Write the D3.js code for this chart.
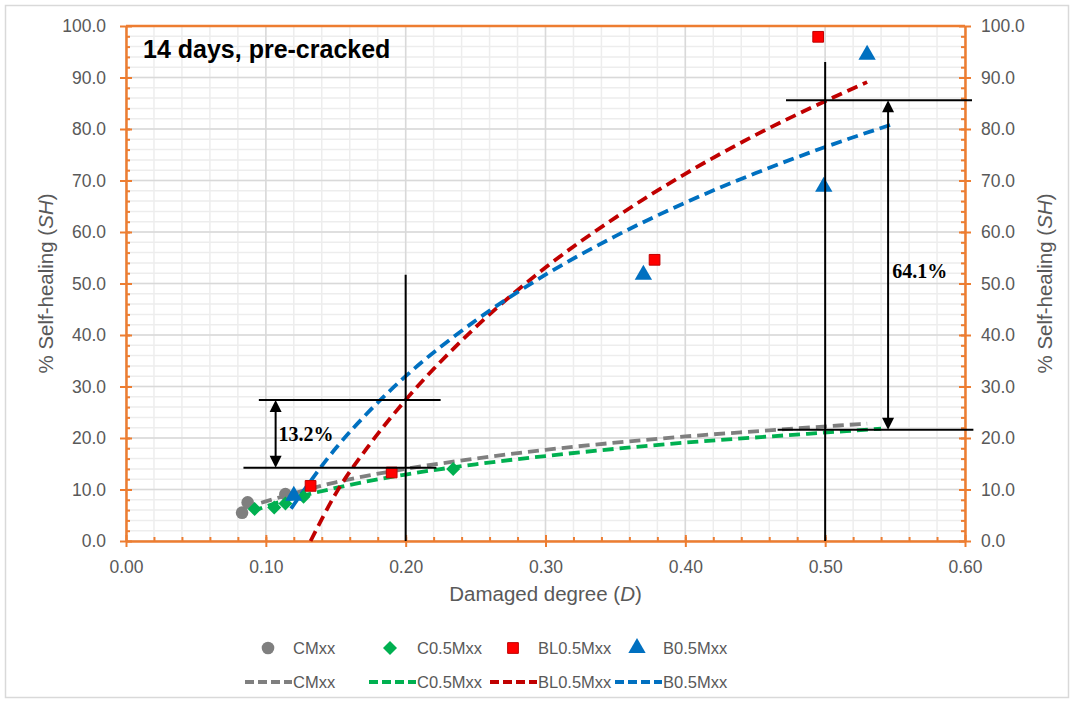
<!DOCTYPE html>
<html>
<head>
<meta charset="utf-8">
<script src="https://cdn.jsdelivr.net/npm/d3@7"></script>
<style>
 body { margin: 0; background: #fff; }
 text { font-family: "Liberation Sans", Arial, sans-serif; }
</style>
</head>
<body>
<svg id="chart" width="1076" height="704"></svg>
<script>
// measured points, [D, SH]
var cmPts = [[0.083, 5.5], [0.087, 7.5], [0.114, 9.1]];
var c05Pts = [[0.092, 6.2], [0.106, 6.5], [0.114, 7.3], [0.127, 8.6], [0.234, 14.0]];
var bl05Pts = [[0.132, 10.7], [0.190, 13.3], [0.378, 54.6], [0.495, 97.9]];
var b05Pts = [[0.120, 8.8], [0.370, 51.7], [0.499, 68.8], [0.530, 94.4]];

// trend lines
var cmTrend = [[0.085, 6.5], [0.10, 7.7], [0.15, 11.4], [0.20, 14.0], [0.25, 16.0], [0.30, 17.7], [0.35, 19.1], [0.40, 20.3], [0.45, 21.3], [0.53, 22.8]];
var c05Trend = [[0.09, 5.7], [0.10, 6.7], [0.15, 10.3], [0.20, 12.9], [0.25, 14.9], [0.30, 16.5], [0.35, 17.9], [0.40, 19.1], [0.45, 20.1], [0.54, 21.8]];
var bl05Trend = [[0.132, 0], [0.15, 9.2], [0.175, 19.0], [0.20, 27.4], [0.25, 41.5], [0.30, 53.1], [0.35, 62.8], [0.40, 71.3], [0.45, 78.8], [0.50, 85.4], [0.53, 89.1]];
var b05Trend = [[0.118, 6.3], [0.15, 18.0], [0.175, 25.5], [0.20, 32.0], [0.25, 42.8], [0.30, 51.7], [0.35, 59.2], [0.40, 65.7], [0.45, 71.4], [0.50, 76.5], [0.55, 81.1]];

var seriesNames = ["CMxx", "C0.5Mxx", "BL0.5Mxx", "B0.5Mxx"];
var xTicks = [0, 0.1, 0.2, 0.3, 0.4, 0.5, 0.6];
var yTicks = [0, 10, 20, 30, 40, 50, 60, 70, 80, 90, 100];

// annotation values
var gapLow = {D: 0.2, lo: 14.2, hi: 27.4, label: "13.2%"};
var gapHigh = {D: 0.5, lo: 21.6, hi: 85.6, label: "64.1%"};

var svg = d3.select("#chart");
var margin = {left: 126, right: 111, top: 26, bottom: 163};
var W = 1076, H = 704;
var x = d3.scaleLinear().domain([0, 0.6]).range([margin.left, W - margin.right]);
var y = d3.scaleLinear().domain([0, 100]).range([H - margin.bottom, margin.top]);

var orange = "#ed7d31", tickGrey = "#595959";
var colors = {grey: "#7f7f7f", green: "#00b050", red: "#ff0000", darkRed: "#c00000", blue: "#0070c0"};

// outer frame
svg.append("rect").attr("x", 5.5).attr("y", 5.5).attr("width", 1063).attr("height", 692)
 .attr("fill", "#fff").attr("stroke", "#d9d9d9").attr("stroke-width", 1.5);

// gridlines
var grid = svg.append("g");
d3.range(0, 0.6001, 0.02).forEach(function(v) {
 grid.append("line").attr("x1", x(v)).attr("x2", x(v)).attr("y1", y(0)).attr("y2", y(100))
  .attr("stroke", "#ededed").attr("stroke-width", 1.5);
});
d3.range(0, 100.01, 2).forEach(function(v) {
 grid.append("line").attr("x1", x(0)).attr("x2", x(0.6)).attr("y1", y(v)).attr("y2", y(v))
  .attr("stroke", "#ededed").attr("stroke-width", 1.5);
});
xTicks.forEach(function(v) {
 grid.append("line").attr("x1", x(v)).attr("x2", x(v)).attr("y1", y(0)).attr("y2", y(100))
  .attr("stroke", "#d9d9d9").attr("stroke-width", 1.5);
});
yTicks.forEach(function(v) {
 grid.append("line").attr("x1", x(0)).attr("x2", x(0.6)).attr("y1", y(v)).attr("y2", y(v))
  .attr("stroke", "#d9d9d9").attr("stroke-width", 1.5);
});

// axes
var fmtX = d3.format(".2f"), fmtY = d3.format(".1f");
function styleAxis(g) {
 g.select(".domain").attr("stroke", orange).attr("stroke-width", 2.5);
 g.selectAll(".tick line").attr("stroke", orange).attr("stroke-width", 2);
 g.selectAll(".tick text").attr("fill", tickGrey).style("font-size", "17.5px");
}
var xAxis = svg.append("g").attr("transform", "translate(0," + y(0) + ")")
 .call(d3.axisBottom(x).tickValues(xTicks).tickFormat(fmtX).tickSizeInner(6).tickSizeOuter(0).tickPadding(14));
styleAxis(xAxis);
xAxis.selectAll(".tick line").attr("y1", -6);
var xMinor = svg.append("g").attr("transform", "translate(0," + y(0) + ")")
 .call(d3.axisTop(x).tickValues(d3.range(0.02, 0.6, 0.02)).tickSize(4).tickFormat(""));
xMinor.select(".domain").remove();
xMinor.selectAll("line").attr("stroke", orange).attr("stroke-width", 2);

var yAxisL = svg.append("g").attr("transform", "translate(" + x(0) + ",0)")
 .call(d3.axisLeft(y).tickValues(yTicks).tickFormat(fmtY).tickSizeInner(6).tickSizeOuter(0).tickPadding(14));
styleAxis(yAxisL);
yAxisL.selectAll(".tick line").attr("x1", 6);
var yMinorL = svg.append("g").attr("transform", "translate(" + x(0) + ",0)")
 .call(d3.axisRight(y).tickValues(d3.range(2, 100, 2)).tickSize(4).tickFormat(""));
yMinorL.select(".domain").remove();
yMinorL.selectAll("line").attr("stroke", orange).attr("stroke-width", 2);

var yAxisR = svg.append("g").attr("transform", "translate(" + x(0.6) + ",0)")
 .call(d3.axisRight(y).tickValues(yTicks).tickFormat(fmtY).tickSizeInner(6).tickSizeOuter(0).tickPadding(10));
styleAxis(yAxisR);
yAxisR.selectAll(".tick line").attr("x1", -6);
var yMinorR = svg.append("g").attr("transform", "translate(" + x(0.6) + ",0)")
 .call(d3.axisLeft(y).tickValues(d3.range(2, 100, 2)).tickSize(4).tickFormat(""));
yMinorR.select(".domain").remove();
yMinorR.selectAll("line").attr("stroke", orange).attr("stroke-width", 2);

svg.append("line").attr("x1", x(0)).attr("x2", x(0.6)).attr("y1", y(100)).attr("y2", y(100))
 .attr("stroke", orange).attr("stroke-width", 2.5);

// axis titles
function axisTitle(t, tx, ty, rot, ital) {
 var el = svg.append("text").attr("transform", "translate(" + tx + "," + ty + ") rotate(" + rot + ")")
  .attr("text-anchor", "middle").attr("fill", tickGrey).style("font-size", "20.5px");
 el.append("tspan").text(t);
 el.append("tspan").style("font-style", "italic").text(ital);
 el.append("tspan").text(")");
}
axisTitle("Damaged degree (", x(0.3), 601, 0, "D");
axisTitle("% Self-healing (", 53, y(50), -90, "SH");
axisTitle("% Self-healing (", 1052, y(50), -90, "SH");

// trend lines
var line = d3.line().x(function(d) { return x(d[0]); }).y(function(d) { return y(d[1]); }).curve(d3.curveMonotoneX);
var trends = [[cmTrend, colors.grey], [c05Trend, colors.green], [bl05Trend, colors.darkRed], [b05Trend, colors.blue]];
trends.forEach(function(t) {
 svg.append("path").datum(t[0]).attr("d", line).attr("fill", "none")
  .attr("stroke", t[1]).attr("stroke-width", 3.8).attr("stroke-dasharray", "11,6");
});

// markers
var sym = {
 circle: d3.symbol().type(d3.symbolCircle).size(125),
 diamond: d3.symbol().type(d3.symbolDiamond2).size(125),
 square: d3.symbol().type(d3.symbolSquare).size(115),
 triangle: d3.symbol().type(d3.symbolTriangle).size(130)
};
function drawPts(data, shape, fill, stroke) {
 svg.append("g").selectAll("path").data(data).enter().append("path")
  .attr("transform", function(d) { return "translate(" + x(d[0]) + "," + y(d[1]) + ")"; })
  .attr("d", sym[shape]).attr("fill", fill).attr("stroke", stroke || "none").attr("stroke-width", 1);
}
drawPts(cmPts, "circle", colors.grey);
drawPts(c05Pts, "diamond", colors.green);
drawPts(bl05Pts, "square", colors.red, colors.darkRed);
drawPts(b05Pts, "triangle", colors.blue);

// annotations
var ann = svg.append("g").attr("stroke", "#000").attr("stroke-width", 2);
ann.append("line").attr("x1", x(gapLow.D)).attr("x2", x(gapLow.D)).attr("y1", y(51.7)).attr("y2", y(0));
ann.append("line").attr("x1", x(0.095)).attr("x2", x(0.225)).attr("y1", y(gapLow.hi)).attr("y2", y(gapLow.hi));
ann.append("line").attr("x1", x(0.084)).attr("x2", x(0.222)).attr("y1", y(gapLow.lo)).attr("y2", y(gapLow.lo));
ann.append("line").attr("x1", x(gapHigh.D)).attr("x2", x(gapHigh.D)).attr("y1", y(93)).attr("y2", y(0));
ann.append("line").attr("x1", x(0.472)).attr("x2", x(0.605)).attr("y1", y(gapHigh.hi)).attr("y2", y(gapHigh.hi));
ann.append("line").attr("x1", x(0.466)).attr("x2", x(0.606)).attr("y1", y(gapHigh.lo)).attr("y2", y(gapHigh.lo));

function dblArrow(D, lo, hi) {
 var ax = x(D), yt = y(hi), yb = y(lo);
 svg.append("line").attr("x1", ax).attr("x2", ax).attr("y1", yt + 10).attr("y2", yb - 10)
  .attr("stroke", "#000").attr("stroke-width", 2);
 svg.append("path").attr("d", "M" + ax + "," + yt + "l-6,12h12z").attr("fill", "#000");
 svg.append("path").attr("d", "M" + ax + "," + yb + "l-6,-12h12z").attr("fill", "#000");
}
dblArrow(0.107, gapLow.lo, gapLow.hi);
dblArrow(0.545, gapHigh.lo, gapHigh.hi);

svg.append("text").attr("x", x(0.109)).attr("y", y(20.8) + 7).text(gapLow.label)
 .style("font-family", "'Liberation Serif', 'Times New Roman', serif").style("font-weight", "bold").style("font-size", "20px").attr("fill", "#000");
svg.append("text").attr("x", x(0.548)).attr("y", y(52.5) + 7).text(gapHigh.label)
 .style("font-family", "'Liberation Serif', 'Times New Roman', serif").style("font-weight", "bold").style("font-size", "20px").attr("fill", "#000");

// title inside plot
svg.append("text").attr("x", 143).attr("y", 58).text("14 days, pre-cracked")
 .style("font-weight", "bold").style("font-size", "25px").attr("fill", "#000");

// legend
var lg = svg.append("g").style("font-size", "16.5px");
var legX = [268, 390, 513, 637];
var legTextX = [293, 417, 538, 663];
var shapes = ["circle", "diamond", "square", "triangle"];
var fills = [colors.grey, colors.green, colors.red, colors.blue];
var lineCols = [colors.grey, colors.green, colors.darkRed, colors.blue];
seriesNames.forEach(function(n, i) {
 lg.append("path").attr("transform", "translate(" + legX[i] + ",648)").attr("d", sym[shapes[i]])
  .attr("fill", fills[i]).attr("stroke", i == 2 ? colors.darkRed : "none");
 lg.append("text").attr("x", legTextX[i]).attr("y", 654).attr("fill", tickGrey).text(n);
 lg.append("line").attr("x1", legTextX[i] - 48).attr("x2", legTextX[i] - 1).attr("y1", 682).attr("y2", 682)
  .attr("stroke", lineCols[i]).attr("stroke-width", 3.8).attr("stroke-dasharray", "9,4");
 lg.append("text").attr("x", legTextX[i]).attr("y", 688).attr("fill", tickGrey).text(n);
});
</script>
</body>
</html>
